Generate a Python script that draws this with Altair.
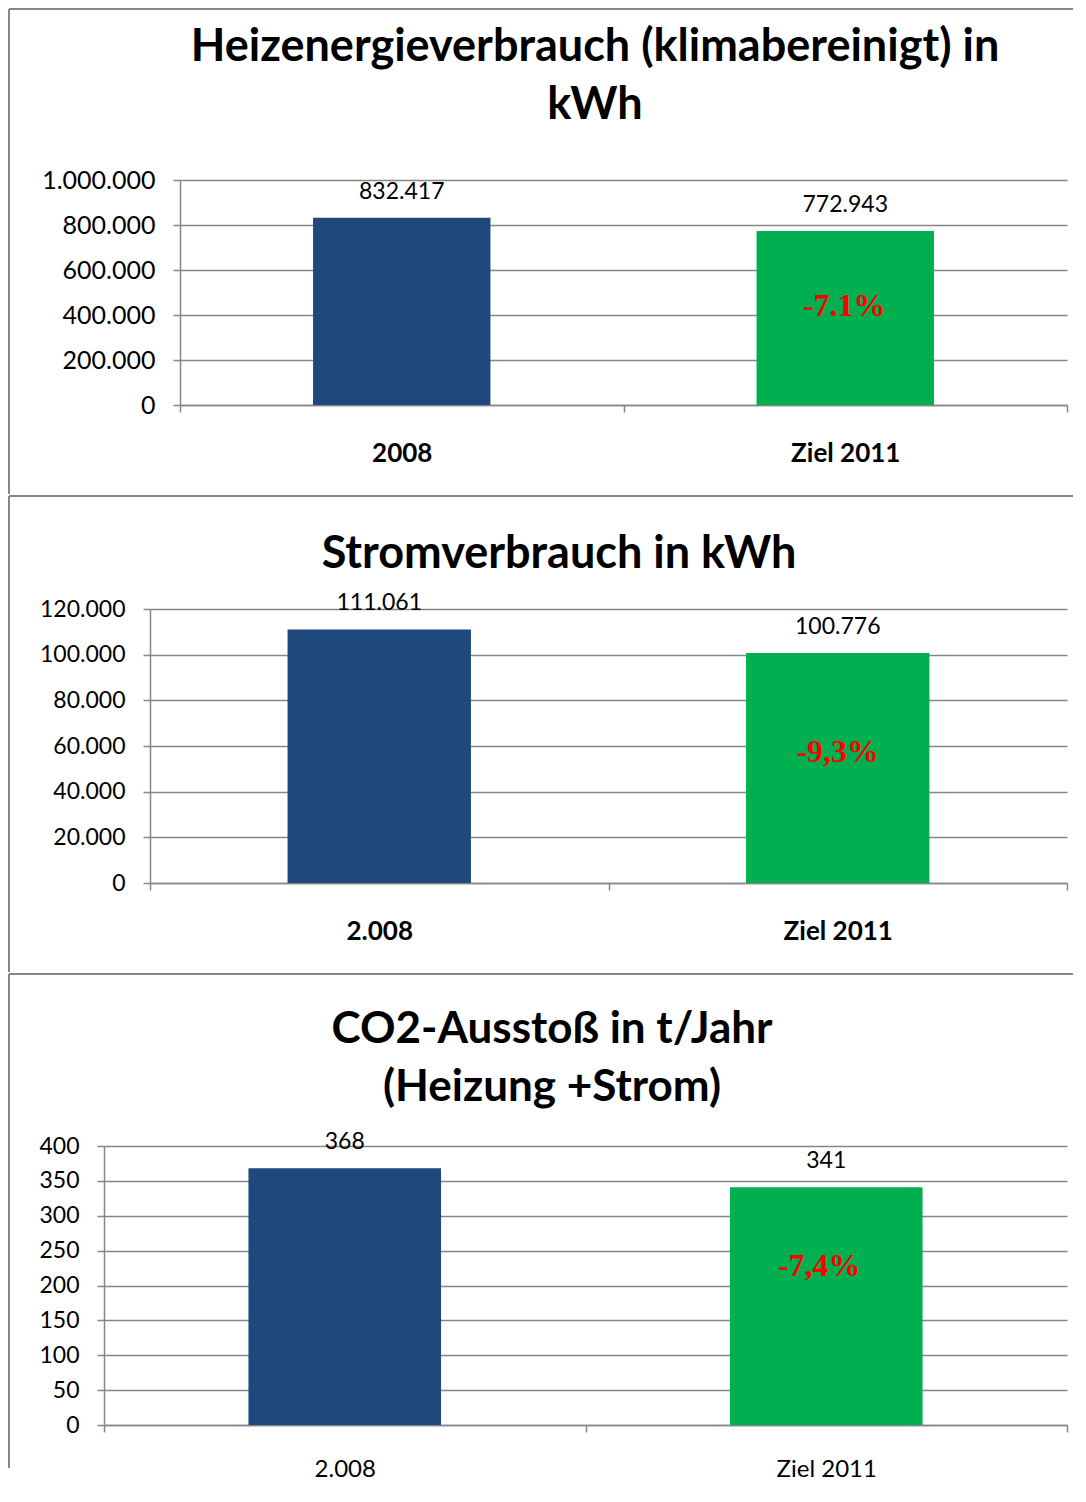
import altair as alt
import pandas as pd

# ---------------- data ----------------
cats_heat = ["2008", "Ziel 2011"]
vals_heat = [832417, 772943]
pct_heat = "-7.1%"
ticks_heat = [0, 200000, 400000, 600000, 800000, 1000000]
title_heat = ["Heizenergieverbrauch (klimabereinigt) in", "kWh"]

cats_power = ["2.008", "Ziel 2011"]
vals_power = [111061, 100776]
pct_power = "-9,3%"
ticks_power = [0, 20000, 40000, 60000, 80000, 100000, 120000]
title_power = ["Stromverbrauch in kWh"]

cats_co2 = ["2.008", "Ziel 2011"]
vals_co2 = [368, 341]
pct_co2 = "-7,4%"
ticks_co2 = [0, 50, 100, 150, 200, 250, 300, 350, 400]
title_co2 = ["CO2-Ausstoß in t/Jahr", "(Heizung +Strom)"]

# ---------------- style ----------------
FONT = "Lato"
GRID = "#868686"
BLUE = "#1F497D"
GREEN = "#00B050"
RED = "#FF0000"
DE_FMT = "replace(replace(format(datum.value, ','), ',', '.'), ',', '.')"
W = 1058          # common group width (frame left to plot right)
FRAME_RIGHT = 1064


def de(v):
    return f"{v:,}".replace(",", ".")


def panel(cats, vals, pct, ticks, title, left, height, fy, fy2, tick_fs,
          x_fs, x_weight, x_pad, title_fs, title_offset, title_dx, pct_frac, pct_dx):
    df = pd.DataFrame({
        "cat": cats,
        "value": vals,
        "label": [de(v) for v in vals],
        "pct": ["", pct],
    })
    x = alt.X(
        "cat:N",
        sort=cats,
        scale=alt.Scale(domain=cats, paddingInner=0, paddingOuter=0, range=[left, W]),
        axis=alt.Axis(
            title=None, labelAngle=0, tickBand="extent", grid=False,
            domainColor=GRID, domainWidth=1.5, tickColor=GRID, tickWidth=1.5,
            tickSize=7, labelFont=FONT, labelFontSize=x_fs,
            labelFontWeight=x_weight, labelColor="black", labelPadding=x_pad,
        ),
    )
    y_scale = alt.Scale(domain=[ticks[0], ticks[-1]], nice=False, zero=True)
    y_axis = alt.Axis(
        title=None, values=ticks, tickCount=len(ticks), labelExpr=DE_FMT,
        grid=True, offset=-left,
        gridColor=GRID, gridWidth=1.5, domainColor=GRID, domainWidth=1.5,
        tickColor=GRID, tickWidth=1.5, tickSize=7, labelPadding=18,
        labelFont=FONT, labelFontSize=tick_fs, labelColor="black",
        labelOverlap=False,
    )
    y = alt.Y("value:Q", scale=y_scale, axis=y_axis)
    base = alt.Chart(df)
    bars = base.mark_bar(width={"band": 0.4}).encode(
        x=x, y=y,
        color=alt.Color("cat:N", scale=alt.Scale(domain=cats, range=[BLUE, GREEN]), legend=None),
    )
    labels = base.mark_text(font=FONT, fontSize=23, color="black", baseline="middle", dy=-26).encode(
        x=x, y=y, text="label:N"
    )
    ann = base.transform_filter("datum.pct != ''").transform_calculate(
        value=f"datum.value * {pct_frac}"
    ).mark_text(font="Liberation Serif", fontSize=32, fontWeight="bold", color=RED,
                baseline="middle", dx=pct_dx).encode(
        x=x, y=y, text="pct:N"
    )
    top_line = base.mark_rule(color=GRID, strokeWidth=2).encode(
        x=alt.value(0), x2=alt.value(FRAME_RIGHT), y=alt.value(fy)
    )
    left_line = base.mark_rule(color=GRID, strokeWidth=2).encode(
        x=alt.value(0), y=alt.value(fy), y2=alt.value(fy2)
    )
    return alt.layer(bars, labels, ann, top_line, left_line).properties(
        width=W, height=height,
        title=alt.TitleParams(
            text=title, font=FONT, fontSize=title_fs, fontWeight="bold", color="black",
            lineHeight=58, anchor="middle", frame="group", offset=title_offset,
            dx=title_dx,
        ),
    )


p1 = panel(cats_heat, vals_heat, pct_heat, ticks_heat, title_heat,
           171, 225, -171, 314, 25, 26, "bold", 28, 45, -120, 57, 0.57, -1)
p2 = panel(cats_power, vals_power, pct_power, ticks_power, title_power,
           141, 274, -113, 363, 23, 26, "bold", 28, 45, -82, 21, 0.57, 0)
p3 = panel(cats_co2, vals_co2, pct_co2, ticks_co2, title_co2,
           95, 279, -172, 322, 23, 24, "normal", 25, 44, -137, 14, 0.67, -7)

chart = alt.concat(p1, p2, p3, columns=1, spacing=0).properties(
    padding=0, background="white"
).configure_view(stroke=None)

chart.save("out.html", embed_options={"renderer": "svg", "actions": False})
